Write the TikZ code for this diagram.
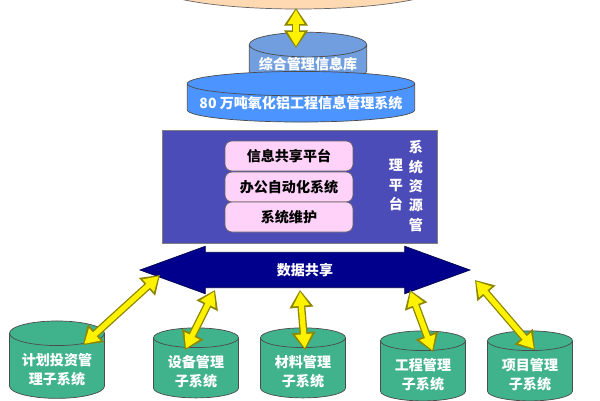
\documentclass[tikz,border=0pt]{standalone}
\usepackage{fontspec}
\setmainfont{Noto Sans CJK SC}
\usetikzlibrary{shapes.geometric,shapes.arrows,arrows.meta}
\definecolor{libblue}{RGB}{112,158,222}
\tikzset{
  base/.style={cylinder, shape border rotate=90, draw=black!70, text=white, font=\bfseries\fontsize{8}{11}\selectfont, align=center, inner sep=0pt},
  sub/.style={base, fill=teal!80!green!75, minimum width=1.7cm, minimum height=1.3cm, aspect=0.35},
  pinkbox/.style={draw=black!60, rounded corners=4pt, fill=pink!40!magenta!25, minimum width=2.56cm, minimum height=0.6cm, font=\bfseries\fontsize{8}{10}\selectfont},
  vtext/.style={text=white, font=\bfseries\fontsize{8}{10}\selectfont, align=center, inner sep=0pt},
  link/.style={line width=4.5pt, draw=olive, {Triangle[length=10pt,width=13pt]}-{Triangle[length=10pt,width=13pt]}},
  linkin/.style={line width=3pt, draw=yellow, {Triangle[length=8pt,width=9pt]}-{Triangle[length=8pt,width=9pt]}, shorten <=1pt, shorten >=1pt}
}
\begin{document}
\begin{tikzpicture}[x=0.02cm,y=-0.02cm]
\clip (0,0) rectangle (600,400);
\fill[white] (0,0) rectangle (600,400);

% top of the upper layer
\node[ellipse, draw=black!60, fill=orange!30, minimum width=5.9cm, minimum height=1cm] (top) at (298,-16) {};

% information library
\node[base, fill=libblue, minimum width=2.35cm, minimum height=0.9cm, aspect=0.25] (lib) at (308,64) {综合管理信息库};
\node[base, fill=blue!60!cyan!70, minimum width=4.55cm, minimum height=1cm, aspect=0.12] (sys) at (301,103) {80 万吨氧化铝工程信息管理系统};

% platform
\node[draw=black!50, fill=blue!60!black!70!white, minimum width=5.5cm, minimum height=2.26cm] (plat) at (300,187) {};
\node[pinkbox] (share) at (289,156) {信息共享平台};
\node[pinkbox] (office) at (289,187) {办公自动化系统};
\node[pinkbox] (maint) at (289,217) {系统维护};
\node[vtext] (colr) at (416,186) {系\\[1pt]统\\[1pt]资\\[1pt]源\\[1pt]管};
\node[vtext] (coll) at (396,185) {理\\[1pt]平\\[1pt]台};

% data sharing
\node[double arrow, fill=blue!55!black, draw=blue!30!black, minimum width=0.95cm, minimum height=6.6cm, double arrow head extend=0.12cm, double arrow tip angle=40, text=white, font=\bfseries\fontsize{8}{10}\selectfont, inner xsep=1pt, inner ysep=6pt] (data) at (305,270) {数据共享};

% subsystems
\node[sub, minimum width=1.9cm] (plan) at (57,366) {\\计划投资管\\理子系统};
\node[sub] (equip) at (196,368) {\\设备管理\\子系统};
\node[sub] (mat) at (303,368) {\\材料管理\\子系统};
\node[sub] (eng) at (423,371) {\\工程管理\\子系统};
\node[sub] (proj) at (530,371) {\\项目管理\\子系统};

% links
\coordinate (t0) at (296,8);   \coordinate (l0) at (296,48);
\coordinate (d1) at (160,275); \coordinate (s1) at (83,345);
\coordinate (d2) at (215,290); \coordinate (s2) at (185,350);
\coordinate (d3) at (300,290); \coordinate (s3) at (305,350);
\coordinate (d4) at (410,290); \coordinate (s4) at (433,352);
\coordinate (d5) at (475,280); \coordinate (s5) at (535,350);
\foreach \from/\to in {t0/l0,d1/s1,d2/s2,d3/s3,d4/s4,d5/s5}
{\draw[link] (\from) -- (\to);
 \draw[linkin] (\from) -- (\to);}
\end{tikzpicture}
\end{document}
